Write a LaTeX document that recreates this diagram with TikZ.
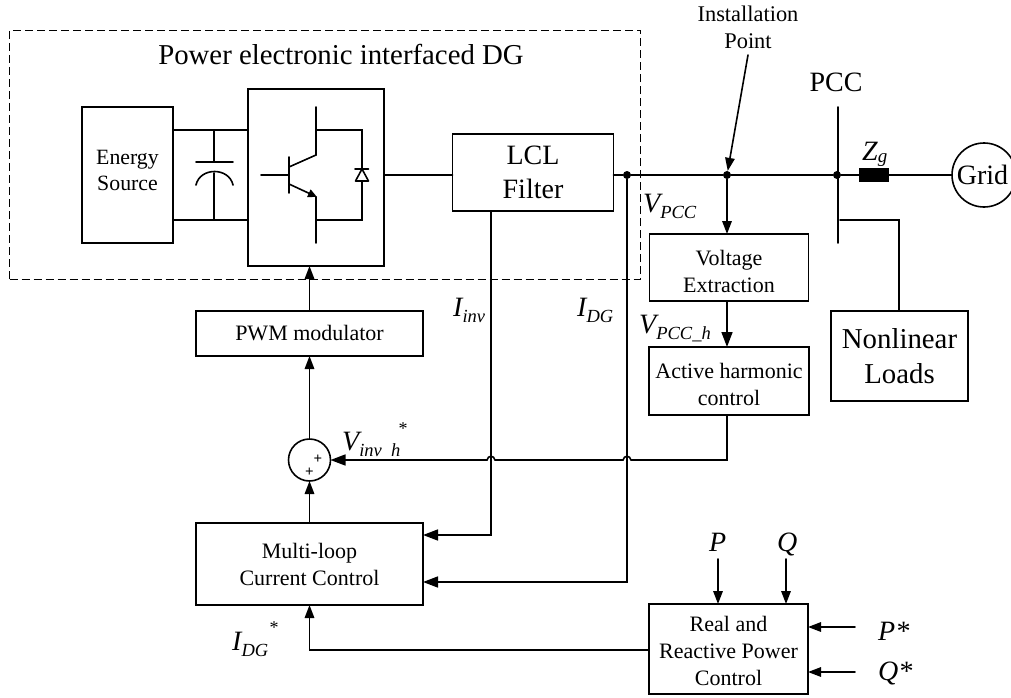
\documentclass[tikz,border=0pt]{standalone}
\usepackage{fontspec}
\setmainfont{Liberation Serif}
\usetikzlibrary{arrows.meta,calc}
\newcommand{\subsc}[2][18.5]{\raisebox{-0.22em}{\fontsize{#1}{#1}\selectfont\itshape #2}}
\tikzset{
  wire/.style={line width=1.6pt,line cap=round,line join=miter},
  arrw/.style={wire,-{Triangle[length=15pt,width=11pt]}},
  arrs/.style={wire,-{Triangle[length=13pt,width=9.5pt]}},
  box/.style={draw,line width=1.6pt,inner sep=0pt,outer sep=0pt,align=center},
  dot/.style={circle,fill=black,inner sep=0pt,minimum size=8pt},
  lbl/.style={inner sep=0pt,font=\fontsize{28}{30}\selectfont},
  mlbl/.style={inner sep=0pt,anchor=base west,font=\fontsize{28}{30}\selectfont\itshape},
  ctl/.style={font=\fontsize{22}{27}\selectfont},
}
\begin{document}
\begin{tikzpicture}[x=1pt,y=-1pt]
\useasboundingbox (0,0) rectangle (1011,698);
\clip (0,0) rectangle (1011,698);
% dashed enclosure
\node[draw,line width=0.9pt,dash pattern=on 8pt off 4pt,inner sep=0pt,minimum width=631pt,minimum height=249pt] (dg) at (325,154.5) {};
\node[inner sep=0pt,font=\fontsize{28.8}{30}\selectfont] (dgt) at (341,55) {Power electronic interfaced DG};
% boxes
\node[box,minimum width=91pt,minimum height=136pt,font=\fontsize{21.8}{26}\selectfont] (es) at (127.5,175) {\raisebox{25pt}{\parbox{88pt}{\centering Energy\\Source}}};
\node[box,minimum width=136pt,minimum height=177pt] (conv) at (316,177.5) {};
\node[box,minimum width=161pt,minimum height=77pt,font=\fontsize{28}{34}\selectfont] (lcl) at (533,172.5) {LCL\\Filter};
\node[box,ctl,minimum width=159pt,minimum height=67pt] (ve) at (729,267.5) {\rule{0pt}{23pt}Voltage\\Extraction};
\node[box,ctl,minimum width=160pt,minimum height=68pt] (ahc) at (729,381) {\rule{0pt}{22pt}Active harmonic\\control};
\node[box,minimum width=137pt,minimum height=90pt,font=\fontsize{28.8}{35}\selectfont] (nl) at (899.5,356) {Nonlinear\\Loads};
\node[box,ctl,minimum width=227pt,minimum height=45pt] (pwm) at (309.5,333.5) {PWM modulator};
\node[box,ctl,minimum width=227pt,minimum height=82pt] (mlc) at (309.5,564) {Multi-loop\\Current Control};
\node[box,ctl,minimum width=159pt,minimum height=90pt] (rpc) at (728.5,649) {\rule{0pt}{19pt}Real and\\Reactive Power\\Control};
\node[draw,circle,line width=1.6pt,inner sep=0pt,minimum size=42pt,outer sep=0pt] (sum) at (309.5,460) {};
\node[inner sep=0pt,font=\fontsize{15}{15}\selectfont\bfseries] (pl1) at (318,459) {+};
\node[inner sep=0pt,font=\fontsize{15}{15}\selectfont\bfseries] (pl2) at (309.5,472) {+};
\node[draw,circle,line width=1.6pt,inner sep=0pt,minimum size=64pt,outer sep=0pt,font=\fontsize{28}{30}\selectfont] (grid) at (984,175) {\hspace*{-3pt}Grid};
\node[box,fill=black,minimum width=28pt,minimum height=12pt] (zg) at (874,175) {};
% junctions
\node[dot] (j1) at (627,175) {};
\node[dot] (j2) at (727,175) {};
\node[dot] (j3) at (837,175) {};
% capacitor and switch (drawn shapes)
\coordinate (capT) at (214,130);
\coordinate (capB) at (214,220);
\draw[wire] (es.east|-capT) -- (conv.west|-capT);
\draw[wire] (es.east|-capB) -- (conv.west|-capB);
\draw[wire] (capT) -- (214,162);
\draw[wire] (196,162) -- (233,162);
\draw[wire] (196,185) .. controls (200,167) and (229,167) .. (233,185);
\draw[wire] (214,173) -- (capB);
% IGBT
\draw[wire] (316,107) -- (316,155) -- (289,167);
\draw[wire] (289,157) -- (289,193);
\draw[wire] (261,175) -- (289,175);
\draw[wire,-{Triangle[length=9pt,width=8pt]}] (289,184) -- (317,197);
\draw[wire] (316,197) -- (316,243);
\draw[wire] (316,130) -- (362,130) -- (362,169);
\draw[wire] (362,181) -- (362,220) -- (316,220);
\draw[wire] (355,169) -- (368.5,169);
\draw[wire,line join=round] (362,169) -- (355.5,181) -- (368.5,181) -- cycle;
% power line
\coordinate (cout) at (384,175);
\draw[wire] (cout) -- (cout-|lcl.west);
\draw[wire] (lcl.east|-j1) -- (j1) -- (j2) -- (j3) -- (zg);
\draw[wire] (zg) -- (grid);
% PCC bus
\coordinate (busT) at (838,107);
\coordinate (busB) at (838,243);
\draw[wire] (busT) -- (busB);
\coordinate (nlc) at (899,220);
\draw[wire] (840,220) -- (nlc) -- (nlc|-nl.north);
% labels top
\node[inner sep=0pt,font=\fontsize{22.4}{27}\selectfont,align=center] (ip) at (748,27) {Installation\\Point};
\coordinate (ipa) at (748,55);
\draw[arrs] (ipa) -- (j2);
\node[lbl] (pcc) at (836,82) {PCC};
\node[mlbl] (zgl) at (862,160) {Z\raisebox{-0.1em}{\fontsize{19}{19}\selectfont\itshape g}};
% signal path
\draw[arrs] (j2) -- (j2|-ve.north);
\coordinate (vo) at (727,301);
\draw[arrw] (vo) -- (vo|-ahc.north);
\draw[arrs] (pwm.north) -- (pwm.north|-conv.south);
\draw[arrs] (sum.north) -- (pwm.south);
\draw[arrs] (mlc.north) -- (sum.south);
\coordinate (ao) at (727,415);
\draw[arrw] (ao) -- (727,460) -- (631,460) .. controls (630,455) and (624,455) .. (623,460) -- (495,460) .. controls (494,455) and (488,455) .. (487,460) -- (sum.east);
\coordinate (c1) at (491,535);
\coordinate (c2) at (627,582);
\draw[arrw] (c1|-lcl.south) -- (c1) -- (c1-|mlc.east);
\draw[arrw] (j1) -- (c2) -- (c2-|mlc.east);
% power control
\coordinate (pin) at (718,559);
\coordinate (qin) at (786,559);
\draw[arrs] (pin) -- (pin|-rpc.north);
\draw[arrs] (qin) -- (qin|-rpc.north);
\coordinate (psin) at (855,627);
\coordinate (qsin) at (855,672);
\draw[arrs] (psin) -- (psin-|rpc.east);
\draw[arrs] (qsin) -- (qsin-|rpc.east);
\coordinate (ir) at (309.5,650);
\draw[arrs] (rpc.west|-ir) -- (ir) -- (mlc.south);
% math labels
\node[mlbl] (lv) at (643,212) {V\subsc{PCC}};
\node[mlbl] (lvh) at (639,333) {V\subsc{PCC\_h}};
\node[mlbl] (li) at (453,316) {I\subsc{inv}};
\node[mlbl] (ld) at (577,316) {I\subsc{DG}};
\node[mlbl] (lvi) at (342,450) {V\subsc{inv\ \ h}};
\node[inner sep=0pt,font=\fontsize{18}{18}\selectfont] (lvs) at (403,429) {*};
\node[mlbl] (lids) at (232,650) {I\subsc{DG}};
\node[inner sep=0pt,font=\fontsize{18}{18}\selectfont] (lds) at (274,628) {*};
\node[mlbl] (lp) at (709,551) {P};
\node[mlbl] (lq) at (777,551) {Q};
\node[mlbl] (lps) at (878,640) {P*};
\node[mlbl] (lqs) at (878,680) {Q*};
\end{tikzpicture}
\end{document}
